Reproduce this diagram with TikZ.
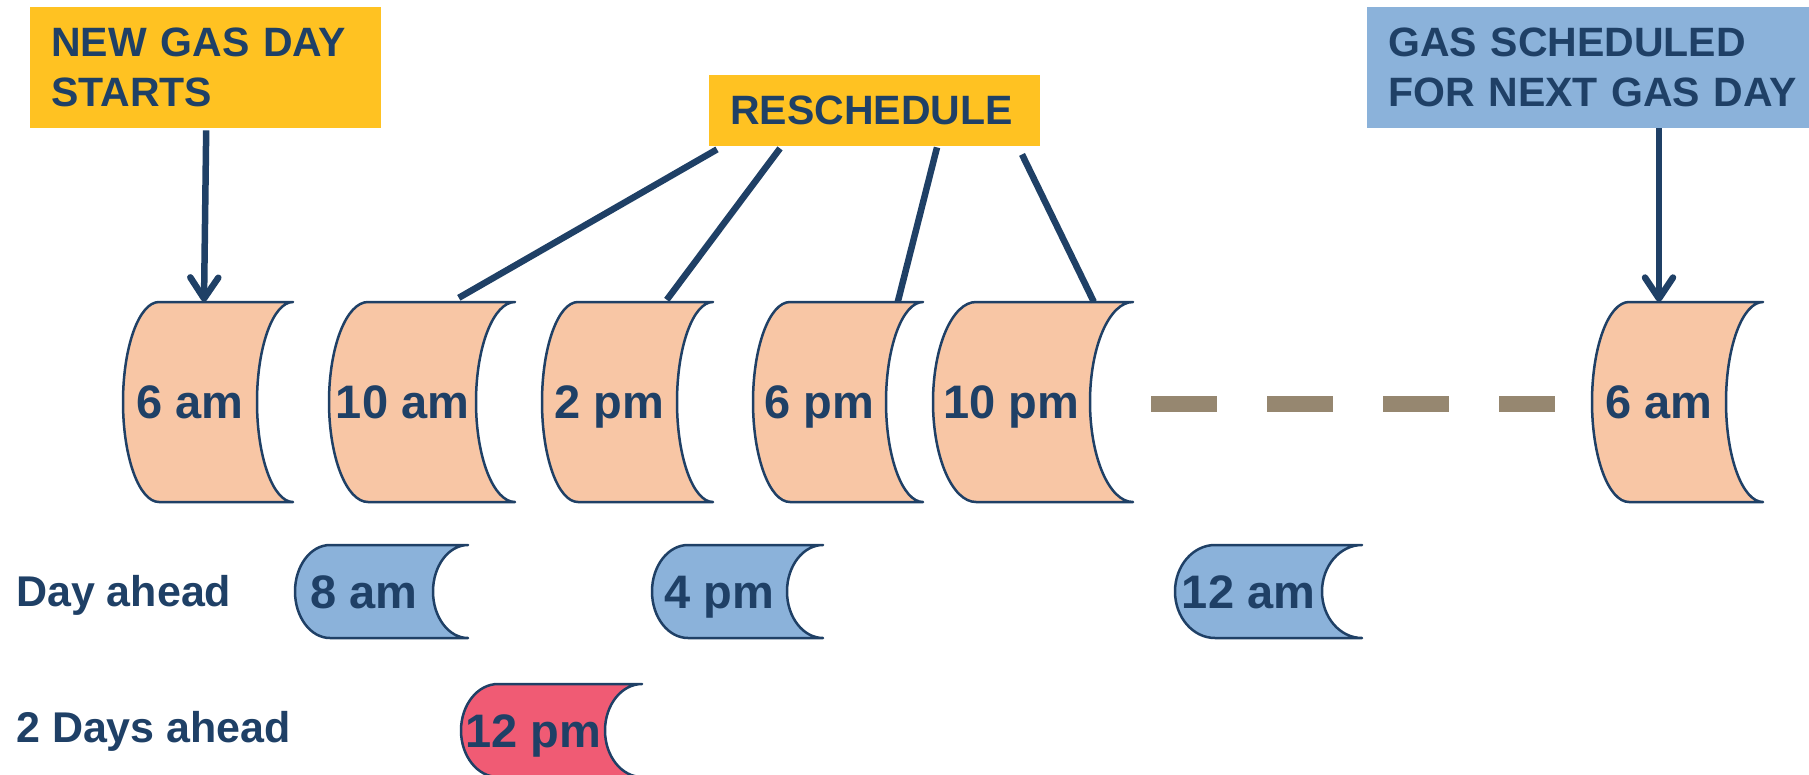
\documentclass[tikz,border=0pt]{standalone}
\usepackage{fontspec}
\setmainfont{Liberation Sans}
\usetikzlibrary{arrows.meta,calc}

\definecolor{navy}{RGB}{31,64,102}
\definecolor{peach}{RGB}{248,198,165}
\definecolor{skyblue}{RGB}{139,178,218}
\definecolor{rose}{RGB}{240,91,116}
\definecolor{amber}{RGB}{255,194,34}
\definecolor{taupe}{RGB}{150,135,112}

\tikzset{
  drumline/.style={draw=navy, line width=2.5pt, line join=round},
  drumtext/.style={inner sep=0pt, text=navy, text height=33.5pt, text depth=0pt,
    font=\bfseries\fontsize{47}{50}\selectfont},
  tagbox/.style={anchor=north west, inner sep=0pt, align=left, text=navy,
    font=\bfseries\fontsize{41}{50}\selectfont},
  rowlabel/.style={anchor=base west, inner sep=0pt, text=navy,
    font=\bfseries\fontsize{43}{50}\selectfont},
  link/.style={draw=navy, line width=6.5pt},
  pointer/.style={link, -{Straight Barb[length=21pt,width=28pt,line cap=round,line join=round]}},
  gap/.style={draw=taupe, line width=16pt, dash pattern=on 66pt off 50pt}
}

% horizontal drum: #1 name, #2 left x, #3 right x, #4 top y, #5 bottom y,
% #6 end-cap radius, #7 fill colour, #8 label
\newcommand\gasdrum[8]{%
  \pgfmathsetmacro\gdCx{#2+#6}%
  \pgfmathsetmacro\gdVx{#3-#6}%
  \pgfmathsetmacro\gdMy{(#4+#5)/2}%
  \pgfmathsetmacro\gdKx{0.5523*#6}%
  \pgfmathsetmacro\gdKy{0.5523*(#5-#4)/2}%
  \pgfmathsetmacro\gdW{#3-#6-#2}%
  \pgfmathsetmacro\gdH{#5-#4}%
  \draw[drumline, fill=#7] (\gdCx,#4) -- (#3,#4)
    .. controls (#3-\gdKx,#4) and (\gdVx,\gdMy-\gdKy) .. (\gdVx,\gdMy)
    .. controls (\gdVx,\gdMy+\gdKy) and (#3-\gdKx,#5) .. (#3,#5)
    -- (\gdCx,#5)
    .. controls (\gdCx-\gdKx,#5) and (#2,\gdMy+\gdKy) .. (#2,\gdMy)
    .. controls (#2,\gdMy-\gdKy) and (\gdCx-\gdKx,#4) .. (\gdCx,#4) -- cycle;
  \node[drumtext, minimum width=\gdW pt, minimum height=\gdH pt]
    (#1) at ({(#2+\gdVx)/2},\gdMy) {#8};
}

\begin{document}
\begin{tikzpicture}[x=1pt, y=-1pt]
\useasboundingbox (0,0) rectangle (1809,774);

% callout boxes
\node[tagbox, fill=amber, minimum width=351pt, minimum height=121pt, text width=309pt]
  (newday) at (30,7) {NEW GAS DAY\\STARTS};
\node[tagbox, fill=amber, minimum width=331pt, minimum height=71pt, text width=289pt]
  (resched) at (709,75) {RESCHEDULE};
\node[tagbox, fill=skyblue, minimum width=460pt, minimum height=121pt, text width=418pt]
  (nextday) at (1367,7) {GAS SCHEDULED\\FOR NEXT GAS DAY};

% nomination cycles of the gas day
\gasdrum{am6}{123}{293}{302}{502}{36}{peach}{6 am}
\gasdrum{am10}{329}{515}{302}{502}{39}{peach}{10 am}
\gasdrum{pm2}{542}{713}{302}{502}{36}{peach}{2 pm}
\gasdrum{pm6}{753}{923}{302}{502}{37}{peach}{6 pm}
\gasdrum{pm10}{933}{1133}{302}{502}{43}{peach}{10 pm}
\gasdrum{am6next}{1592}{1763}{302}{502}{37}{peach}{6 am}

% day-ahead and two-days-ahead deadlines
\gasdrum{da8}{295}{468}{545}{638}{35}{skyblue}{8 am}
\gasdrum{da4}{652}{823}{545}{638}{36}{skyblue}{4 pm}
\gasdrum{da12}{1175}{1362}{545}{638}{40}{skyblue}{12 am}
\gasdrum{tda12}{461}{642}{684}{777}{37}{rose}{12 pm}

\node[rowlabel] (dayahead) at (16,606) {Day ahead};
\node[rowlabel] (twodays) at (16,742) {2 Days ahead};

% elapsed time between the last cycle and the next gas day
\draw[gap] ([xshift=61pt,yshift=-2pt]pm10.east) -- ([xshift=-37pt,yshift=-2pt]am6next.west);

% reschedule links
\draw[link] ([xshift=8pt,yshift=-3pt]resched.south west) -- ([xshift=130pt,yshift=4pt]am10.north west);
\draw[link] ([xshift=71pt,yshift=-2pt]resched.south west) -- ([xshift=125pt,yshift=2pt]pm2.north west);
\draw[link] ([xshift=228pt,yshift=-1pt]resched.south west) -- ([xshift=145pt]pm6.north west);
\draw[link] ([xshift=313pt,yshift=-8pt]resched.south west) -- ([xshift=161pt]pm10.north west);

% arrows into the start and end of the gas day
\draw[pointer] ([xshift=0.5pt,yshift=-2pt]newday.south) -- ([xshift=14pt]am6.north);
\draw[pointer] (am6next.north |- nextday.south) -- (am6next.north);
\end{tikzpicture}
\end{document}
